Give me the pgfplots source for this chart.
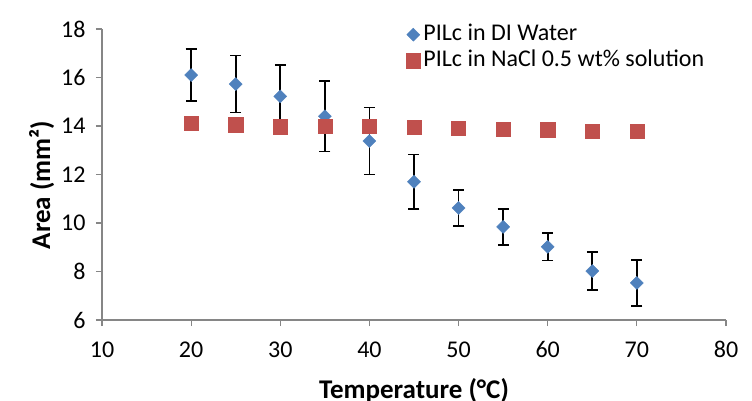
\documentclass[border=0pt]{standalone}
\usepackage{pgfplots}
\pgfplotsset{compat=1.18}
\usepackage{fontspec}
\setmainfont{Carlito}
\definecolor{exblue}{HTML}{4F81BD}
\definecolor{exred}{HTML}{C0504D}
\definecolor{axgray}{HTML}{868686}
\begin{document}
\begin{tikzpicture}
\useasboundingbox (-102bp,-81bp) rectangle (650bp,320bp);
\begin{axis}[
  at={(0,0)}, anchor=south west,
  scale only axis, width=624bp, height=291bp,
  xmin=10, xmax=80, ymin=6, ymax=18,
  xtick={10,20,...,80}, ytick={6,8,...,18},
  axis x line*=bottom, axis y line*=left,
  axis line style={axgray, line width=1.2bp, -},
  tick style={axgray, line width=1.2bp},
  tick align=outside, major tick length=6bp,
  /pgf/number format/assume math mode=true,
  tick label style={font=\fontsize{24bp}{28bp}\selectfont, black},
  xticklabel style={yshift=-12bp},
  yticklabel style={xshift=-7bp},
  xlabel={Temperature (°C)},
  ylabel={Area (mm²)},
  label style={font=\fontsize{27bp}{31bp}\selectfont\bfseries},
  xlabel style={at={(axis description cs:0.5,0)}, anchor=base, yshift=-78bp},
  ylabel style={at={(axis description cs:-0.0833,0.464)}, anchor=base},
  legend style={at={(axis description cs:0.4872,1.0172)}, anchor=north west,
    draw=none, fill=none, font=\fontsize{24bp}{28bp}\selectfont,
    row sep=5bp, inner sep=0pt,
    nodes={inner xsep=3bp, inner ysep=0pt, text height=16bp, text depth=5bp}},
  legend image code/.code={%
    \path[draw=none, fill=none] (-7bp,-7bp) rectangle (7bp,7bp);
    \draw[#1] plot coordinates {(0bp,0bp)};},
  legend cell align=left,
  clip=false,
]
% error bars (behind markers)
\addplot[draw=none, mark=none, forget plot,
  error bars/.cd, y dir=both, y explicit,
  error bar style={black, line width=1.6bp},
  error mark options={black, line width=1.6bp, mark size=5.5bp, rotate=90}]
  table[x=x, y=y, y error=e] {
x y e
20 16.10 1.07
25 15.73 1.17
30 15.22 1.30
35 14.40 1.45
40 13.38 1.38
45 11.70 1.12
50 10.62 0.75
55 9.84 0.74
60 9.02 0.56
65 8.02 0.78
70 7.53 0.95
};
\addplot[only marks, mark=square*, mark size=4.6bp,
  mark options={exblue, fill=exblue, rotate=45}]
  table[x=x, y=y] {
x y
20 16.10
25 15.73
30 15.22
35 14.40
40 13.38
45 11.70
50 10.62
55 9.84
60 9.02
65 8.02
70 7.53
};
\addlegendentry{PILc in DI Water}
\addplot[only marks, mark=square*, mark size=7.1bp,
  mark options={exred, fill=exred}]
  table[x=x, y=y] {
x y
20 14.10
25 14.05
30 13.97
35 14.00
40 13.98
45 13.95
50 13.90
55 13.87
60 13.85
65 13.80
70 13.77
};
\addlegendentry{PILc in NaCl 0.5 wt\% solution}
\end{axis}
\end{tikzpicture}
\end{document}
